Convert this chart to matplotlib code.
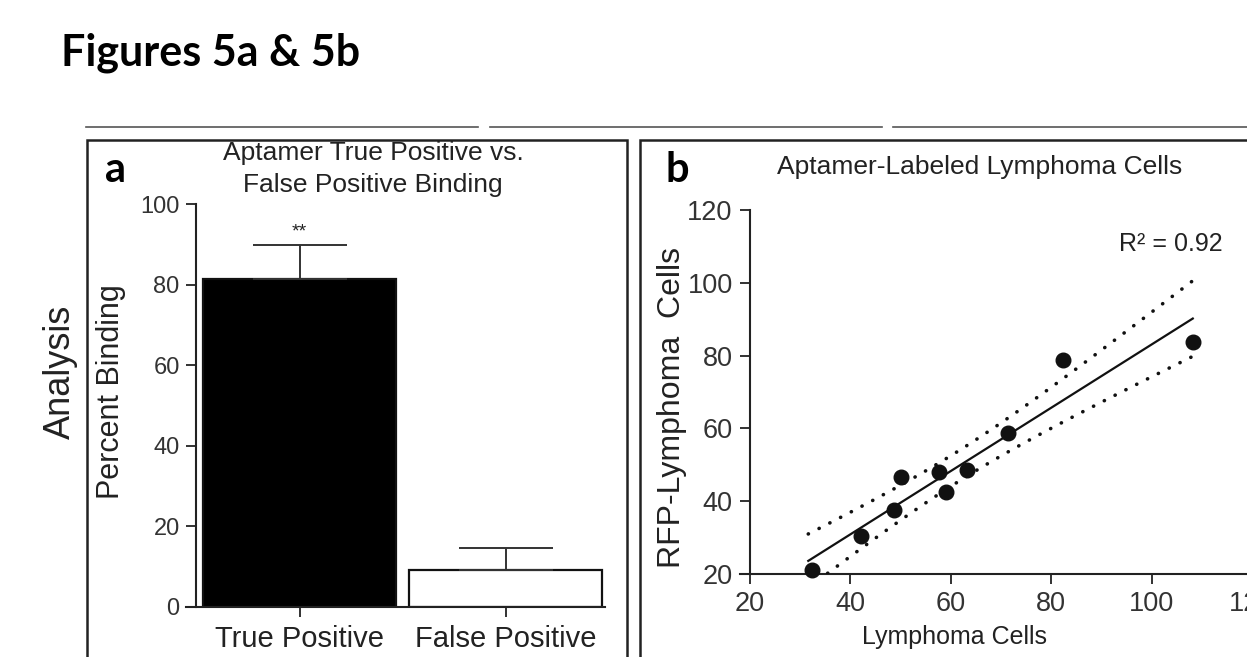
import numpy as np
import matplotlib.pyplot as plt
from matplotlib.patches import Rectangle
from matplotlib.lines import Line2D

plt.rcParams['font.family'] = ['Liberation Sans', 'DejaVu Sans']

# panel a: percent binding
groups = ['True Positive', 'False Positive']
binding = [81.5, 9.0]
binding_err = [8.5, 5.5]
bar_colors = ['black', 'white']

# panel b: cell counts
lymphoma = [32.4, 42.1, 48.7, 50.1, 57.7, 59.1, 63.3, 71.3, 82.3, 108.2]
rfp_lymphoma = [21.0, 30.5, 37.6, 46.7, 48.0, 42.6, 48.6, 58.8, 78.7, 83.6]
t_95 = 2.306  # t value, 8 degrees of freedom

W, H = 1247, 657
fig = plt.figure(figsize=(W / 100, H / 100), dpi=100)


def fx(px):
    return px / W


def fy(py):
    return 1 - py / H


ink = '#222222'
soft = '#333333'

# ---- panel a ----
ax = fig.add_axes([fx(186), fy(606.5), fx(605) - fx(186), fy(204.5) - fy(606.5)])
pos = np.arange(len(groups))
ax.bar(pos, binding, width=0.935, color=bar_colors, edgecolor='#111111',
       linewidth=1.6, zorder=2)
ax.errorbar(pos, binding, yerr=[[0, 0], binding_err], fmt='none', ecolor=soft,
            elinewidth=1.4, capsize=34, capthick=1.4, zorder=3)
ax.text(0, binding[0] + binding_err[0] + 1.0, '**', ha='center', va='bottom',
        fontsize=14, color=ink)
ax.set_xlim(-0.55, 1.48)
ax.set_ylim(0, 100)
ax.set_xticks(pos)
ax.set_xticklabels(groups, fontsize=21, color=ink)
ax.set_yticks(np.arange(0, 101, 20))
ax.tick_params(axis='y', labelsize=17, labelcolor=soft, length=7, width=1.3,
               color=ink, pad=5)
ax.tick_params(axis='x', length=7, width=1.3, color=ink, pad=6)
ax.spines['left'].set_position(('data', -0.5))
for s in ['top', 'right']:
    ax.spines[s].set_visible(False)
for s in ['left', 'bottom']:
    ax.spines[s].set_linewidth(1.5)
    ax.spines[s].set_color(ink)

# ---- panel b ----
bx = fig.add_axes([fx(740), fy(574), fx(1252) - fx(740), fy(210) - fy(574)])
x = np.array(lymphoma)
y = np.array(rfp_lymphoma)
slope, icpt = np.polyfit(x, y, 1)
resid = y - (slope * x + icpt)
s_err = np.sqrt(np.sum(resid ** 2) / (len(x) - 2))
xx = np.linspace(x.min() - 0.8, x.max(), 60)
yy = slope * xx + icpt
half = t_95 * s_err * np.sqrt(1 / len(x) + (xx - x.mean()) ** 2 / np.sum((x - x.mean()) ** 2))
bx.plot(xx, yy, color='#111111', lw=1.6, zorder=3)
for band in (yy + half, yy - half):
    bx.plot(xx, band, color='#111111', lw=2.6, linestyle=(0, (0.05, 3.3)),
            dash_capstyle='round', zorder=3)
bx.plot(x, y, 'o', ms=10.5, color='#111111', clip_on=False, zorder=4)
bx.set_xlim(18, 120)
bx.set_ylim(20, 120)
bx.set_xticks(np.arange(20, 121, 20))
bx.set_yticks(np.arange(20, 121, 20))
bx.tick_params(labelsize=19.5, labelcolor=soft, length=7.5, width=1.3,
               color=ink, pad=5)
bx.spines['left'].set_position(('data', 20))
for s in ['top', 'right']:
    bx.spines[s].set_visible(False)
for s in ['left', 'bottom']:
    bx.spines[s].set_linewidth(1.5)
    bx.spines[s].set_color(ink)

r2 = 1 - np.sum(resid ** 2) / np.sum((y - y.mean()) ** 2)
fig.text(fx(1171), fy(244), 'R² = %.2f' % r2, ha='center', va='center',
         fontsize=18, color=ink)

# ---- labels and frames ----
fig.text(fx(61), fy(53), 'Figures 5a & 5b', fontsize=31, weight='bold',
         family='Lato', va='center', ha='left')
fig.text(fx(115), fy(170), 'a', fontsize=30, weight='bold', family='Lato',
         ha='center', va='center')
fig.text(fx(677), fy(170), 'b', fontsize=30, weight='bold', family='Lato',
         ha='center', va='center')
fig.text(fx(373), fy(169), 'Aptamer True Positive vs.\nFalse Positive Binding',
         ha='center', va='center', fontsize=19, linespacing=1.45, color=ink)
fig.text(fx(980), fy(167), 'Aptamer-Labeled Lymphoma Cells', ha='center',
         va='center', fontsize=19, color=ink)
fig.text(fx(60), fy(372), 'Analysis', rotation=90, ha='center', va='center',
         fontsize=26, color=ink)
fig.text(fx(111), fy(392), 'Percent Binding', rotation=90, ha='center',
         va='center', fontsize=22, color=ink)
fig.text(fx(672), fy(408), 'RFP-Lymphoma  Cells', rotation=90, ha='center',
         va='center', fontsize=23, color=ink)
fig.text(fx(955), fy(637), 'Lymphoma Cells', ha='center', va='center',
         fontsize=18, color=ink)

for x0, x1 in [(86, 478), (490, 882), (893, 1247)]:
    fig.add_artist(Line2D([fx(x0), fx(x1)], [fy(127), fy(127)], color='#555555',
                          lw=1.2))
for x0, x1 in [(87, 627), (640, 1300)]:
    fig.add_artist(Rectangle((fx(x0), fy(720)), fx(x1) - fx(x0), fy(140) - fy(720),
                             fill=False, lw=1.8, ec=ink, transform=fig.transFigure))

fig.savefig('out.png', dpi=100)
